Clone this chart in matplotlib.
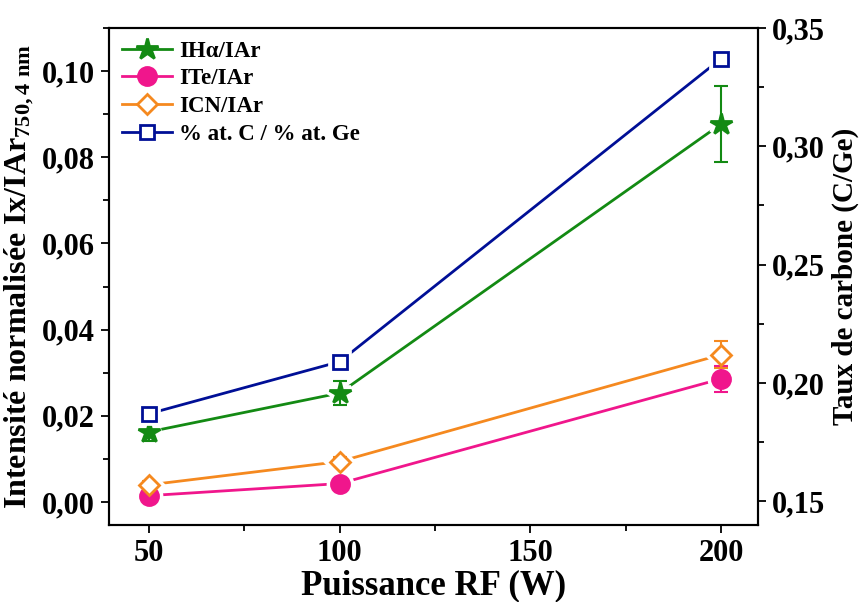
import matplotlib
matplotlib.use('Agg')
import matplotlib.pyplot as plt
from matplotlib.ticker import MultipleLocator, FuncFormatter

plt.rcParams['font.family'] = 'Liberation Serif'
plt.rcParams['font.weight'] = 'bold'
plt.rcParams['mathtext.fontset'] = 'custom'
plt.rcParams['mathtext.rm'] = 'Liberation Serif:bold'
plt.rcParams['mathtext.it'] = 'Liberation Serif:bold'
plt.rcParams['mathtext.bf'] = 'Liberation Serif:bold'

# data
power = [50, 100, 200]
i_halpha = [0.0163, 0.0253, 0.0877]
i_halpha_err = [0.0022, 0.0027, 0.0088]
i_te = [0.0015, 0.0043, 0.0286]
i_te_err = [0.0012, 0.0010, 0.0030]
i_cn = [0.0040, 0.0094, 0.0342]
i_cn_err = [0.0010, 0.0010, 0.0032]
c_ge = [0.187, 0.209, 0.337]

green = '#138a13'
pink = '#f0168c'
orange = '#f5891f'
navy = '#000f96'


def fmt(v, pos):
    return ('%.2f' % v).replace('.', ',')


def draw(ax, x, y, err, color, marker, ms, fill, label):
    ax.plot(x, y, color=color, lw=2, zorder=1, label=label,
            marker=marker, ms=ms, mfc=fill, mec=color, mew=2)
    # white halo so the line stops short of the marker
    ax.plot(x, y, ls='none', marker=marker, ms=ms, mfc='white', mec='white',
            mew=7, zorder=2)
    if err is not None:
        ax.errorbar(x, y, yerr=err, fmt='none', ecolor=color, elinewidth=1.5,
                    capsize=5, capthick=1.5, zorder=3)
    ax.plot(x, y, ls='none', marker=marker, ms=ms, mfc=fill, mec=color,
            mew=2, zorder=4)


fig = plt.figure(figsize=(8.63, 6.02), dpi=100)
ax = fig.add_axes([0.1263, 0.128, 0.752, 0.8256])
ax2 = ax.twinx()

draw(ax, power, i_halpha, i_halpha_err, green, '*', 16, green, 'IHα/IAr')
draw(ax, power, i_te, i_te_err, pink, 'o', 13, pink, 'ITe/IAr')
draw(ax, power, i_cn, i_cn_err, orange, 'D', 10, 'white', 'ICN/IAr')
draw(ax2, power, c_ge, None, navy, 's', 10, 'white', '% at. C / % at. Ge')

ax.set_xlim(39.5, 209.7)
ax.set_ylim(-0.0053, 0.110)
ax2.set_ylim(0.140, 0.350)

ax.xaxis.set_major_locator(MultipleLocator(50))
ax.xaxis.set_minor_locator(MultipleLocator(25))
ax.yaxis.set_major_locator(MultipleLocator(0.02))
ax.yaxis.set_minor_locator(MultipleLocator(0.01))
ax2.yaxis.set_major_locator(MultipleLocator(0.05))
ax2.yaxis.set_minor_locator(MultipleLocator(0.025))
ax.yaxis.set_major_formatter(FuncFormatter(fmt))
ax2.yaxis.set_major_formatter(FuncFormatter(fmt))

for a in (ax, ax2):
    a.tick_params(which='major', direction='out', length=6, width=1.3, labelsize=22, pad=4)
    a.tick_params(which='minor', direction='out', length=4, width=1.3)
    for s in a.spines.values():
        s.set_linewidth(1.5)
ax.tick_params(axis='x', pad=4)

ax.set_xlabel('Puissance RF (W)', fontsize=25, fontweight='bold', labelpad=1)
ax.set_ylabel(r'Intensité normalisée Ix/IAr$_{750,4\ nm}$', fontsize=23, fontweight='bold', labelpad=4)
ax2.set_ylabel('Taux de carbone (C/Ge)', fontsize=21, fontweight='bold', labelpad=5)

h1, l1 = ax.get_legend_handles_labels()
h2, l2 = ax2.get_legend_handles_labels()
ax.legend(h1 + h2, l1 + l2, loc='upper left', frameon=False, fontsize=16.5,
          handlelength=2.2, borderaxespad=0.15, labelspacing=0.3, handletextpad=0.3)

fig.savefig('out.png', dpi=100)
